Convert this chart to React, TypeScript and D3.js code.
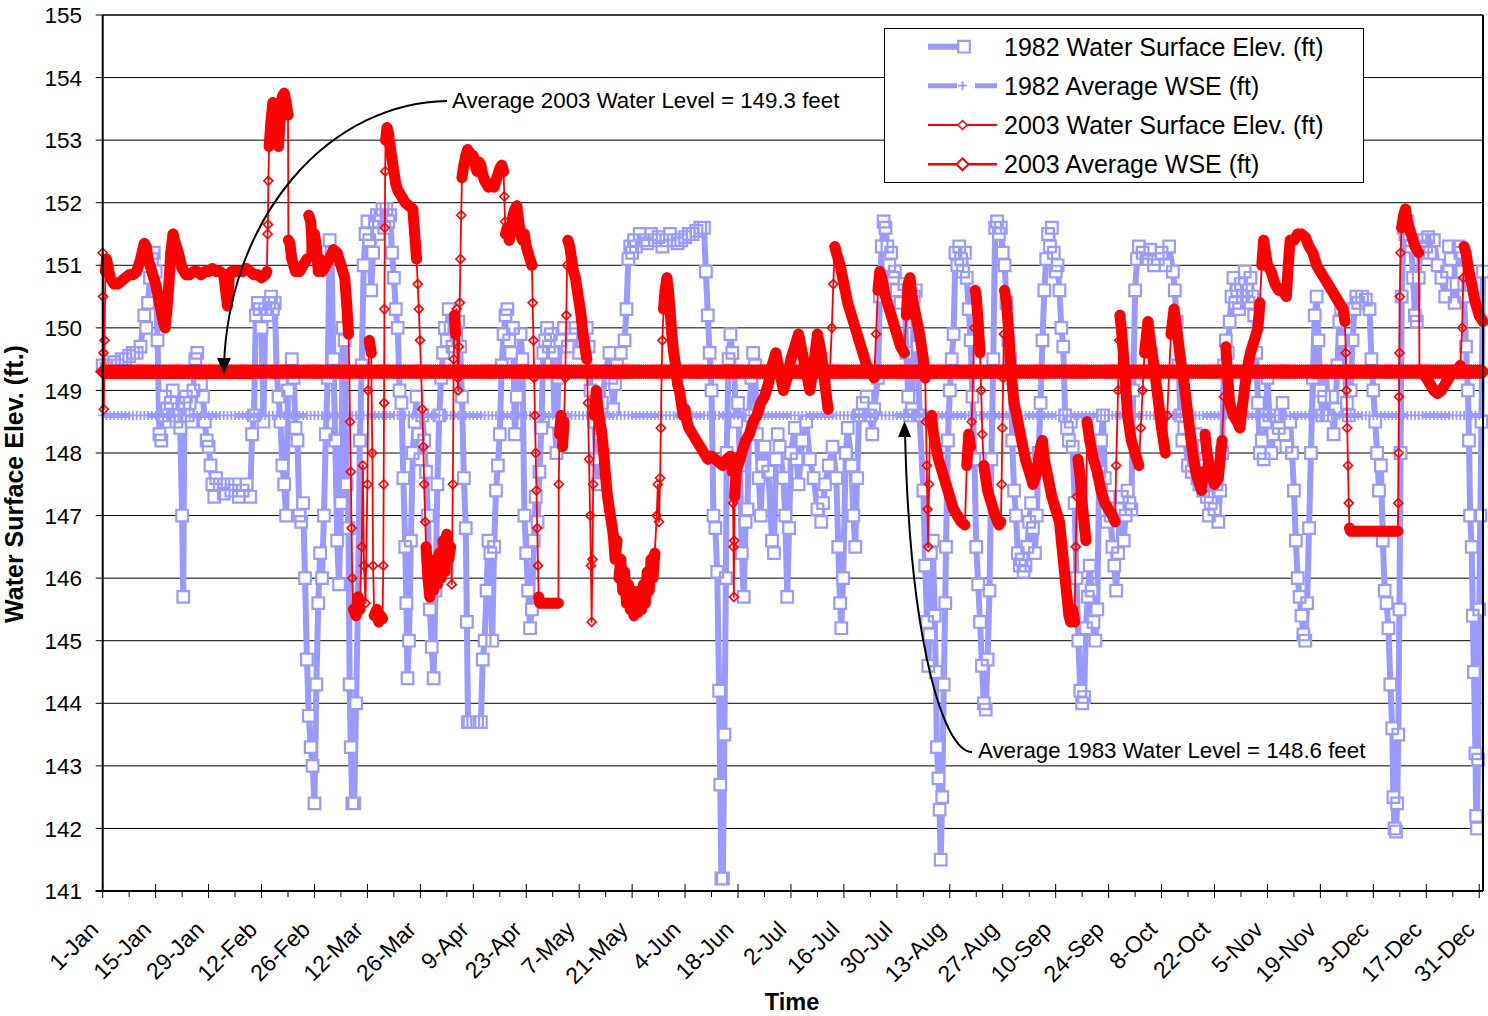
import React from 'react';
import * as d3 from 'd3';

const X_TICK_LABELS = ['1-Jan','15-Jan','29-Jan','12-Feb','26-Feb','12-Mar','26-Mar','9-Apr','23-Apr','7-May','21-May','4-Jun','18-Jun','2-Jul','16-Jul','30-Jul','13-Aug','27-Aug','10-Sep','24-Sep','8-Oct','22-Oct','5-Nov','19-Nov','3-Dec','17-Dec','31-Dec'];
const Y_TICKS = [141,142,143,144,145,146,147,148,149,150,151,152,153,154,155];
const AVG_1982 = 148.6;
const AVG_2003 = 149.3;
const LEGEND_LABELS = ['1982 Water Surface Elev. (ft)','1982 Average WSE (ft)','2003 Water Surface Elev. (ft)','2003 Average WSE (ft)'];

// [day of year, elevation ft]
const WSE_1982: [number, number][] = [
[0,149.4],[1,149.35],[2,149.4],[3,149.45],[4,149.4],[5,149.5],[6,149.5],[7,149.55],[8,149.6],[9,149.6],[10,149.7],[11,150.2],[11.5,150.0],[12,150.4],[12.5,150.8],[13,151.1],[13.5,151.2],[14,150.9],[14.5,149.8],[15,148.3],[15.5,148.2],[16,148.6],[16.5,148.9],[17,148.7],[17.5,148.5],[18,148.8],[18.5,149.0],[19,148.6],[19.5,148.5],[20,148.7],[20.5,148.4],[21,147.0],[21.3,145.7],[21.6,148.8],[22,148.9],[22.5,148.6],[23,148.8],[23.5,148.5],[24,149.0],[24.5,149.5],[25,149.6],[25.5,149.3],[26,149.1],[26.5,148.9],[27,148.5],[27.5,148.2],[28,148.1],[28.5,147.8],[29,147.5],[29.5,147.3],[30,147.6],[31,147.5],[32,147.35],[33,147.5],[34,147.4],[35,147.5],[36,147.3],[37,147.4],[38,147.5],[39,147.3],[39.5,148.3],[40,148.6],[40.5,150.2],[41,150.4],[41.5,150.3],[42,150.0],[42.5,148.5],[43,150.3],[43.5,150.2],[44,150.4],[44.5,150.5],[45,150.3],[45.5,150.4],[46,149.3],[46.5,148.9],[47,148.5],[47.5,147.8],[48,147.5],[48.5,147.0],[49,149.0],[49.5,149.3],[50,149.5],[50.5,149.2],[51,148.4],[51.5,148.2],[52,147.0],[52.5,146.9],[53,147.2],[53.5,146.0],[54,144.7],[54.5,143.8],[55,143.3],[55.5,143.0],[56,142.4],[56.5,144.3],[57,145.6],[57.5,146.4],[58,146.0],[58.5,147.0],[59,148.3],[59.5,149.2],[60,151.4],[60.5,151.2],[61,149.5],[61.5,148.2],[62,146.6],[62.5,145.9],[63,147.2],[63.5,150.0],[64,149.8],[64.5,147.5],[65,146.8],[65.3,144.3],[65.6,143.3],[66,142.4],[66.5,142.4],[67,144.0],[67.5,145.6],[68,148.2],[68.5,149.4],[69,151.0],[69.5,151.5],[70,151.7],[70.5,151.4],[71,150.6],[71.5,151.2],[72,151.7],[72.5,151.8],[73,151.5],[73.5,151.8],[74,151.9],[74.5,151.6],[75,151.9],[75.5,151.7],[76,151.8],[76.5,151.2],[77,150.8],[77.5,150.3],[78,150.0],
[78.5,149.0],[79,148.8],[79.5,147.6],[80,146.5],[80.3,145.6],[80.6,144.4],[81,145.0],[81.5,146.6],[82,148.0],[82.5,148.5],[83,148.9],[83.5,148.3],[84,147.9],[84.5,148.6],[85,148.2],[85.5,147.7],[86,147.0],[86.5,145.5],[87,144.9],[87.5,144.4],[88,145.8],[88.5,147.5],[89,148.6],[89.5,149.2],[90,149.6],[90.5,150.0],[91,149.8],[91.5,150.3],[92,150.0],[92.5,149.7],[93,150.0],[93.5,149.9],[94,150.1],[94.5,149.7],[95,148.9],[95.5,147.6],[96,146.8],[96.3,145.3],[96.6,143.7],[97,143.7],[98,143.7],[99,143.7],[100,143.7],[100.5,144.7],[101,145.0],[101.5,145.8],[102,146.6],[102.5,146.4],[103,145.0],[103.5,146.5],[104,147.4],[104.5,147.8],[105,148.3],[105.5,149.4],[106,149.9],[106.5,150.2],[107,150.3],[107.5,149.8],[108,149.6],[108.5,150.0],[109,148.3],[109.5,148.9],[110,149.3],[110.5,149.9],[111,149.5],[111.5,147.0],[112,146.4],[112.5,145.8],[113,145.2],[113.5,145.5],[114,146.6],[114.5,147.3],[115,146.9],[115.5,147.7],[116,148.4],[116.5,149.6],[117,149.8],[117.5,150.0],[118,149.7],[118.5,149.9],[119,149.6],[119.5,148.5],[120,148.0],[120.5,149.2],[121,149.8],[122,150.0],[123,149.7],[124,149.9],[125,150.0],[126,149.6],[127,149.8],[128,150.0],[128.5,149.7],[129,149.0],[130,148.5],[130.5,147.9],[131,147.5],[131.5,148.3],[132,148.8],[133,149.3],[134,149.6],[134.5,149.2],[135,148.7],[135.5,149.1],[136,149.4],[137,149.6],[138,149.8],[138.5,150.3],[139,151.1],[139.5,151.3],[140,151.2],[140.5,151.4],[141,151.3],[142,151.5],[143,151.4],[144,151.35],[145,151.5],[146,151.4],[147,151.45],[148,151.3],[149,151.4],[150,151.5],[151,151.4],[152,151.35],[153,151.4],[154,151.45],[155,151.5],[156,151.5],[157,151.55],[158,151.6],[159,151.6],[159.5,150.9],
[160,150.2],[160.5,149.6],[161,149.0],[161.5,147.0],[162,146.8],[162.5,146.1],[163,144.2],[163.3,142.7],[163.6,141.2],[164,141.2],[164.4,143.5],[164.8,146.0],[165,148.0],[165.5,149.5],[166,149.9],[166.5,149.6],[167,149.3],[167.5,148.5],[168,148.8],[168.5,147.8],[169,146.4],[169.5,145.7],[170,146.9],[170.5,147.1],[171,148.6],[171.5,149.2],[172,149.6],[172.5,149.4],[173,148.3],[173.5,147.6],[174,147.0],[174.5,147.8],[175,148.1],[176,147.7],[177,146.6],[177.5,146.4],[178,147.9],[178.5,148.3],[179,148.1],[180,147.6],[180.5,147.0],[181,145.7],[181.5,146.8],[182,148.0],[183,148.4],[183.5,147.9],[184,147.5],[185,148.2],[186,148.5],[187,147.9],[188,147.6],[189,147.1],[190,146.9],[190.5,147.2],[191,147.5],[192,147.8],[193,148.1],[194,147.6],[194.5,146.5],[195,145.6],[195.3,145.2],[195.8,146.0],[196.5,148.0],[197,148.4],[198,147.8],[198.5,147.0],[199,146.5],[199.5,147.6],[200,148.6],[201,148.8],[202,148.9],[203,148.6],[203.5,148.3],[204,148.7],[205,149.2],[205.5,150.5],[206,151.3],[206.5,151.7],[207,151.6],[207.5,151.3],[208,151.0],[208.5,151.2],[209,150.8],[209.5,150.9],[210,150.6],[211,150.4],[212,150.7],[212.5,149.6],[213,148.9],[213.5,148.6],[214,148.7],[214.5,150.5],[215,150.6],[215.5,149.7],[216,148.6],[217,147.4],[217.5,146.2],[218,145.3],[218.3,144.6],[218.6,145.1],[219,146.4],[219.5,146.6],[220,145.4],[220.3,144.5],[220.6,143.3],[221,142.8],[221.3,142.3],[221.6,141.5],[222,142.5],[222.4,144.3],[222.8,145.6],[223,146.5],[223.5,148.2],[224,149.0],[224.5,149.5],[225,149.9],
[225.5,151.2],[226,151.0],[226.5,151.3],[227,151.1],[227.5,150.9],[228,151.2],[228.5,150.8],[229,150.3],[229.5,149.8],[230,148.9],[230.5,147.9],[231,146.5],[231.5,145.9],[232,145.3],[232.5,144.6],[233,144.0],[233.5,143.9],[234,144.7],[234.5,145.8],[235,147.9],[235.5,149.5],[236,151.6],[236.5,151.7],[237,151.5],[237.5,151.6],[238,151.2],[238.5,151.0],[239,150.4],[239.5,149.8],[240,149.5],[240.5,148.2],[241,147.4],[241.5,147.0],[242,146.4],[242.5,146.2],[243,146.3],[243.5,146.1],[244,146.2],[244.5,146.5],[245,146.9],[245.5,147.2],[246,146.8],[246.5,146.4],[247,147.0],[247.5,148.0],[248,148.8],[248.5,149.8],[249,150.6],[249.5,151.1],[250,151.5],[250.5,151.3],[251,151.6],[251.5,151.2],[252,150.9],[252.5,151.0],[253,150.6],[253.5,150.0],[254,149.7],[254.5,148.6],[255,148.4],[255.5,148.2],[256,148.5],[256.5,148.1],[257,147.2],[257.5,146.0],[258,145.0],[258.5,144.2],[259,144.0],[259.5,144.1],[260,145.2],[260.5,145.7],[261,146.2],[261.5,145.8],[262,145.3],[262.5,145.0],[263,145.5],[263.5,147.7],[264,148.2],[264.5,148.6],[265,147.6],[265.5,146.9],[266,147.3],[266.5,147.0],[267,146.5],[267.5,146.2],[268,145.8],[268.5,146.4],[269,147.1],[269.5,147.3],[270,146.6],[270.5,147.0],[271,147.4],[271.5,147.2],[272,147.1],[272.5,149.0],[273,150.6],[273.5,151.1],[274,151.3],[275,151.2],[276,151.1],[277,151.25],[278,151.0],[279,151.1],[280,151.2],[281,151.0],[282,151.3],[283,150.9],[283.5,150.6],[284,150.1],[284.5,149.4],[285,148.6],[285.5,148.2],[286,148.4],[287,147.8],[288,147.7],[288.5,147.9],[289,148.3],[289.5,147.6],[290,147.5],[291,147.4],[291.5,147.8],[292,147.3],[292.5,147.0],[293,147.2],[294,147.1],[294.5,147.5],[295,146.9],[295.5,147.4],[296,148.0],[296.5,149.4],[297,149.8],[297.5,149.6],[298,150.1],[298.5,150.5],[299,150.8],[299.5,150.4],[300,150.6],[300.5,150.3],[301,150.7],[301.5,150.5],[302,150.9],[302.5,150.6],[303,150.4],[303.5,150.8],[304,150.5],[304.5,150.2],[305,149.6],[305.5,148.8],[306,148.0],[306.5,148.2],[307,147.9],[307.5,148.5],[308,149.2],
[308.5,148.6],[309,148.0],[309.5,148.3],[310,148.6],[311,148.4],[312,148.8],[312.5,148.3],[313,148.1],[314,148.5],[314.5,148.0],[315,147.4],[315.5,146.6],[316,146.0],[316.5,145.7],[317,145.4],[317.5,145.1],[318,145.0],[318.5,145.6],[319,146.8],[319.5,148.0],[320,149.2],[320.5,150.2],[321,150.5],[321.5,149.8],[322,149.0],[322.5,148.6],[323,148.9],[323.5,149.3],[324,148.6],[325,148.9],[325.5,148.3],[326,148.7],[326.5,149.4],[327,150.1],[327.5,150.3],[328,149.8],[328.5,149.3],[329,148.8],[329.5,148.6],[330,149.0],[330.5,149.8],[331,150.3],[331.5,150.5],[332,150.4],[333,150.5],[334,150.45],[335,150.3],[335.5,149.5],[336,149.0],[336.5,148.5],[337,148.0],[337.5,147.4],[338,147.8],[338.5,146.6],[339,145.8],[339.5,145.6],[340,145.2],[340.5,144.3],[341,143.6],[341.3,142.5],[341.6,142.0],[342,141.95],[342.3,142.4],[342.6,143.5],[342.9,145.5],[343.2,148.0],[343.5,150.5],[344,151.6],[344.5,151.5],[345,151.7],[345.5,151.4],[346,151.3],[346.5,150.8],[347,150.2],[347.5,150.1],[348,150.8],[348.5,151.4],[349,151.2],[349.5,151.4],[350,151.3],[350.5,151.45],[351,151.2],[352,151.4],[353,151.0],[354,150.8],[355,150.5],[355.5,150.9],[356,151.3],[356.5,151.1],[357,150.7],[357.5,150.4],[358,150.7],[358.5,151.3],[359,151.2],[359.5,150.9],[360,150.5],[360.5,149.7],[361,149.0],[361.3,148.2],[361.6,147.0],[362,146.5],[362.3,145.4],[362.6,144.5],[363,143.2],[363.2,142.2],[363.4,142.0],[363.7,143.1],[364,145.5],[364.3,147.0],[364.6,148.5],[365,150.9]
];

const WSE_2003: [number, number][] = [
[0,151.2],[0.1,150.5],[0.2,149.6],[0.3,148.7],[0.5,149.8],[0.7,150.9],[1,151.1],[2,150.8],[3,150.7],[4,150.7],[5,150.75],[6,150.8],[7,150.85],[8,150.85],[9,150.9],[10,151.1],[11,151.35],[11.5,151.3],[12,151.1],[13,150.9],[14,150.7],[15,150.4],[16,150.1],[16.5,150.0],[17,150.3],[17.5,150.7],[18,151.2],[18.6,151.5],[19,151.4],[20,151.2],[21,150.95],[22,150.85],[23,150.85],[24,150.9],[25,150.9],[26,150.85],[27,150.9],[28,150.9],[29,150.95],[30,150.9],[31,150.9],[32,150.85],[33,150.35],[33.5,150.85],[34,150.9],[35,150.9],[36,150.9],[37,150.9],[38,150.95],[39,150.9],[40,150.85],[41,150.85],[42,150.8],[43,150.85],[43.4,150.9],[43.6,151.5],[43.7,151.65],[43.8,152.35],[44,152.9],[44.5,153.3],[45,153.6],[45.5,153.4],[46,153.2],[46.5,152.9],[47,153.4],[47.5,153.7],[48,153.75],[48.5,153.6],[49,153.4],[49.1,151.4],[49.5,151.35],[50,151.1],[50.5,151.0],[51,150.9],[52,150.9],[53,151.0],[54,151.1],[54.5,151.8],[55,151.7],[55.5,151.2],[56,151.5],[56.5,151.3],[57,150.9],[57.5,151.1],[58,150.9],[59,151.0],[60,151.1],[61,151.25],[62,151.2],[63,151.0],[64,150.8],[64.5,150.4],[65,149.9],[65.2,149.3],[65.4,148.5],[65.6,147.7],[65.8,146.8],[66,146.0],[66.3,145.5],[67,145.4],[67.5,145.7],[68,145.5],[68.5,146.5],[68.8,147.8],[69.1,146.2],[69.5,145.6],[70,147.5],[70.2,149.0],[70.5,149.8],[71,149.6],[71.3,148.0],[71.5,146.2],[71.8,145.4],[72.5,145.5],[73,145.3],[73.5,145.4],[74,145.35],[74.2,146.2],[74.3,147.5],[74.4,148.8],[74.5,150.3],[74.6,151.6],[74.7,152.5],[74.8,153.0],[75.2,153.2],[75.6,153.1],[76,152.9],[76.5,152.7],[77,152.5],[77.5,152.3],[78,152.2],[79,152.1],[80,152.0],[81,151.95],[82,151.9],[82.5,151.5],[83,151.1],[83.3,150.7],[83.6,150.3],[83.9,149.8],[84.2,149.3],[84.5,148.7],[84.8,148.1],[85,147.5],[85.3,146.9],[85.5,146.5],[86,146.0],[86.5,145.7],[87,146.2],[87.5,145.8],[88,146.3],[88.5,145.9],[89,146.4],[89.5,146.0],[90,146.6],[90.5,146.1],[91,146.7],[91.5,146.3],[92,146.5],[92.3,145.9],[92.6,147.5],[92.8,149.5],[93,150.2],[93.3,149.9],[93.6,150.3],[93.9,149.2],[94,149.0],[94.2,149.7],[94.4,150.4],[94.6,151.1],[94.8,151.8],[95,152.4],[95.5,152.6],[96,152.75],[96.5,152.85],[97,152.8],[97.5,152.7],[98,152.75],[98.5,152.6],[99,152.5],[99.5,152.65],[100,152.6],[100.5,152.45],[101,152.35],[101.5,152.3],[102,152.25],[102.5,152.3],[103,152.3],[103.5,152.25],[104,152.35],[104.5,152.45],[105,152.55],[105.5,152.6],[106,152.5],[106.2,152.1],[106.4,151.7],[106.5,151.5],[107,151.6],[107.5,151.4],[108,151.6],[108.5,151.8],[109,151.9],[109.5,151.95],[110,151.7],[110.5,151.5],[111,151.4],[111.5,151.5],[112,151.3],[112.5,151.2],[113,151.1],[113.5,151.0],[113.7,150.4],[113.9,149.8],[114.1,149.2],[114.3,148.6],[114.5,148.0],[114.7,147.4],[114.9,146.8],[115.1,146.2],[115.3,145.7],[115.6,145.6],[116,145.6],[117,145.6],[118,145.6],[119,145.6],[120,145.6],[120.5,145.6],[120.6,147.5],[120.8,148.3],[121.2,148.6],[121.6,148.1],[122,148.5],[122.3,149.2],[122.6,150.2],[122.8,151.0],[123,151.4],[123.5,151.3],[124,151.1],[124.5,150.9],[125,150.8],[125.5,150.6],[126,150.4],[126.5,150.2],[127,149.9],[127.5,149.7],[128,149.5],[128.3,148.8],[128.6,147.9],[128.9,147.0],[129.1,146.2],[129.3,145.3],[129.5,146.3],[129.7,147.5],[130,148.6],[130.5,149.0],[131,148.7],[131.5,148.5],[132,148.3],[132.5,148.0],[133,147.6],[133.5,147.3],[134,147.1],[134.5,146.9],[135,146.7],[135.5,146.3],[136,146.6],[136.5,146.0],[137,146.3],[137.5,145.8],[138,146.1],[138.5,145.6],[139,145.9],[139.5,145.5],[140,145.8],[140.5,145.4],[141,145.7],[141.5,145.45],[142,145.8],[142.5,145.5],[143,145.9],[143.5,145.6],[144,146.1],[144.5,145.8],[145,146.3],[145.5,146.0],[146,146.4],[146.5,147.0],[146.8,147.5],[147.1,146.9],[147.4,147.6],[147.6,148.4],[147.8,149.3],[148,149.8],[148.3,150.3],[148.7,150.6],[149.2,150.8],[149.6,150.6],[150,150.3],[150.5,149.9],[151,149.6],[151.5,149.4],[152,149.1],[152.5,149.0],[153,148.8],[153.5,148.6],[154,148.7],[154.5,148.5],[155,148.4],[156,148.3],[157,148.2],[158,148.1],[159,148.0],[160,147.9],[161,147.95],[162,147.9],[163,147.85],[164,147.8],[165,147.9],[166,147.95],[166.5,147.7],[166.7,147.2],[166.8,146.5],[166.9,145.7],[167,146.6],[167.1,147.3],[167.5,147.7],[168,147.8],[169,148.0],[170,148.2],[171,148.3],[172,148.5],[173,148.6],[174,148.8],[175,148.9],[176,149.1],[177,149.4],[178,149.6],[179,149.3],[180,149.0],[181,149.2],[182,149.5],[183,149.7],[184,149.9],[185,149.6],[186,149.3],[187,149.0],[188,149.4],[189,149.9],[190,149.6],[191,149.1],[191.8,148.7],[192.3,149.3],[192.8,150.0],[193.2,150.7],[193.6,151.3],[194,151.2],[195,151.0],[196,150.7],[197,150.4],[198,150.2],[199,150.0],[200,149.8],[201,149.6],[202,149.4],[203,149.3],[204,149.2],[204.5,149.9],[205,150.6],[205.5,150.9],[206,150.8],[207,150.5],[208,150.3],[209,150.1],[210,149.9],[211,149.7],[212,149.6],[212.5,150.2],[213,150.7],[213.5,150.8],[214,150.5],[215,150.2],[216,149.9],[217,149.5],[217.5,149.2],[217.7,148.5],[217.9,147.8],[218.1,147.1],[218.3,146.5],[218.5,147.5],[218.8,148.5],[219.2,148.6],[219.5,148.4],[220,148.2],[221,147.9],[222,147.7],[223,147.5],[224,147.3],[225,147.1],[226,147.0],[227,146.9],[228,146.85],[228.5,147.8],[229,148.3],[229.5,148.1],[229.8,148.5],[230.2,149.3],[230.5,150.0],[230.7,150.6],[231,150.5],[231.5,150.1],[232,149.6],[232.3,149.0],[232.6,148.3],[233,147.8],[233.5,147.6],[234,147.4],[235,147.2],[236,147.0],[237,146.85],[237.5,146.9],[237.7,147.5],[237.9,148.4],[238.1,149.2],[238.3,149.9],[238.5,150.6],[239,150.4],[239.5,150.0],[240,149.5],[240.5,149.1],[241,148.8],[242,148.5],[243,148.2],[244,147.9],[245,147.7],[246,147.5],[247,147.7],[248,148.1],[248.5,148.2],[249,147.9],[250,147.6],[251,147.3],[252,147.1],[253,146.9],[253.5,146.6],[254,146.3],[254.5,146.0],[255,145.7],[255.5,145.4],[256,145.3],[256.5,145.5],[257,145.3],[257.3,146.5],[257.6,147.3],[257.9,147.9],[258.5,147.6],[259,147.2],[259.5,146.9],[260,146.6],[260.3,148.5],[261,148.2],[262,147.9],[263,147.7],[264,147.4],[265,147.2],[266,147.1],[267,147.0],[267.7,146.9],[268,147.8],[268.5,149.0],[268.8,149.8],[269,150.2],[269.5,149.9],[270,149.5],[270.5,149.1],[271,148.6],[272,148.2],[273,148.0],[274,147.8],[274.5,148.4],[275,149.0],[275.5,149.6],[276.4,150.1],[277,149.8],[278,149.4],[279,148.9],[280,148.4],[281,148.0],[281.5,148.6],[282,149.3],[282.5,149.9],[283.3,150.3],[284,150.0],[285,149.5],[286,149.1],[287,148.6],[288,148.1],[289,147.7],[290,147.5],[290.6,147.4],[291,147.7],[291.5,148.3],[292,148.0],[293,147.7],[294,147.5],[295,147.6],[296,148.2],[296.5,148.9],[297,149.7],[297.5,149.2],[298,148.8],[299,148.6],[300,148.5],[300.7,148.4],[301.5,148.8],[302.5,149.3],[303.5,149.6],[304.5,149.8],[305.5,150.0],[306,150.4],[306.5,151.0],[307,151.4],[307.5,151.2],[308,151.0],[309,150.9],[310,150.7],[311,150.6],[312,150.6],[313,150.5],[313.5,151.0],[314,151.4],[315,151.4],[316,151.5],[317,151.5],[318,151.45],[319,151.3],[320,151.2],[321,151.0],[322,150.9],[323,150.8],[324,150.7],[325,150.6],[326,150.5],[327,150.4],[328,150.3],[328.5,150.1],[328.7,149.6],[328.9,149.0],[329.1,148.4],[329.3,147.8],[329.5,147.2],[329.7,146.8],[330,146.75],[331,146.75],[332,146.75],[333,146.75],[334,146.75],[335,146.75],[336,146.75],[337,146.75],[338,146.75],[339,146.75],[340,146.75],[341,146.75],[342,146.75],[342.5,146.75],[342.6,147.2],[342.7,148.0],[342.8,148.9],[342.9,149.6],[343,150.5],[343.2,151.2],[343.5,151.6],[344,151.8],[344.5,151.9],[345,151.7],[346,151.5],[347,151.3],[348,151.2],[348.2,149.3],[349,149.3],[350,149.2],[351,149.1],[352,149.0],[353,148.95],[354,149.0],[355,149.1],[356,149.2],[357,149.3],[358,149.3],[359,149.4],[359.5,150.0],[359.8,150.8],[360,151.3],[360.5,151.2],[361,151.0],[362,150.7],[363,150.4],[364,150.2],[365,150.1]
];

const FONT = 'Arial, "Liberation Sans", Helvetica, sans-serif';
const BLUE = '#9999FF';
const RED = '#FF0000';

const X0 = 102.7, X1 = 1483, Y0 = 891, Y1 = 15;
const x = d3.scaleLinear().domain([0, 365]).range([X0, X1]);
const y = d3.scaleLinear().domain([141, 155]).range([Y0, Y1]);

const f = (n: number) => n.toFixed(2);
const diamond = (cx: number, cy: number, r: number) => `M${f(cx)},${f(cy - r)}L${f(cx + r)},${f(cy)}L${f(cx)},${f(cy + r)}L${f(cx - r)},${f(cy)}Z`;
const square = (cx: number, cy: number, r: number) => `M${f(cx - r)},${f(cy - r)}h${2 * r}v${2 * r}h${-2 * r}Z`;
const plus = (cx: number, cy: number, r: number) => `M${f(cx - r)},${f(cy)}h${2 * r}M${f(cx)},${f(cy - r)}v${2 * r}`;

// segments where the level changes slowly (dense hourly readings overlap into a band)
function slowSegments(data: [number, number][], maxSlope: number) {
  let d = '';
  for (let i = 1; i < data.length; i++) {
    const x1 = x(data[i - 1][0]), y1 = y(data[i - 1][1]);
    const x2 = x(data[i][0]), y2 = y(data[i][1]);
    const slope = Math.abs(y2 - y1) / Math.max(0.01, x2 - x1);
    if (slope <= maxSlope) d += `M${f(x1)},${f(y1)}L${f(x2)},${f(y2)}`;
  }
  return d;
}

export default function App() {
  const line = d3.line<[number, number]>().x(d => x(d[0])).y(d => y(d[1]));
  const bluePath = line(WSE_1982) || '';
  const redPath = line(WSE_2003) || '';
  const redBand = slowSegments(WSE_2003, 18);
  const blueMarks = WSE_1982.map(d => square(x(d[0]), y(d[1]), 5.8)).join('');
  const redMarks = WSE_2003.map(d => diamond(x(d[0]), y(d[1]), 4.5)).join('');
  const avgDays = d3.range(0, 365.01, 0.5);
  const avgDaysB = d3.range(0, 365.01, 1);
  const redAvgMarks = avgDays.map(d => diamond(x(d), y(AVG_2003), 6.3)).join('');
  const blueAvgMarks = avgDaysB.map(d => plus(x(d), y(AVG_1982), 4.5)).join('');
  const xTicks = d3.range(0, 365, 7);

  const legendRows = [46.7, 85.7, 125, 164.3];

  return (
    <svg width={1488} height={1016} style={{ position: 'absolute', left: 0, top: 0, background: '#fff' }} fontFamily={FONT}>
      <rect x={0} y={0} width={1488} height={1016} fill="#fff" />
      {/* gridlines */}
      {Y_TICKS.map(t => (
        <line key={'g' + t} x1={X0} x2={X1} y1={y(t)} y2={y(t)} stroke="#000" strokeWidth={1} />
      ))}
      {/* 1982 series */}
      <path d={bluePath} fill="none" stroke={BLUE} strokeWidth={6} strokeLinejoin="round" strokeLinecap="round" />
      <path d={blueMarks} fill="#fff" stroke={BLUE} strokeWidth={2.2} />
      {/* 1982 average */}
      <line x1={x(0)} x2={x(365)} y1={y(AVG_1982)} y2={y(AVG_1982)} stroke={BLUE} strokeWidth={5} strokeDasharray="28 16" />
      <path d={blueAvgMarks} fill="none" stroke={BLUE} strokeWidth={1.8} />
      {/* 2003 series */}
      <path d={redBand} fill="none" stroke={RED} strokeWidth={11} strokeLinecap="round" />
      <path d={redPath} fill="none" stroke={RED} strokeWidth={1.8} strokeLinejoin="round" />
      <path d={redMarks} fill="none" stroke={RED} strokeWidth={1.6} />
      {/* 2003 average */}
      <line x1={x(0)} x2={x(365)} y1={y(AVG_2003)} y2={y(AVG_2003)} stroke={RED} strokeWidth={4} />
      <path d={redAvgMarks} fill="none" stroke={RED} strokeWidth={2} />

      {/* frame */}
      <line x1={X0} x2={X0} y1={Y1} y2={Y0} stroke="#000" strokeWidth={2} />
      <line x1={X0 - 7} x2={X1} y1={Y0} y2={Y0} stroke="#000" strokeWidth={2} />
      <line x1={X1} x2={X1} y1={Y1} y2={Y0} stroke="#000" strokeWidth={2} />
      <line x1={X0} x2={X1} y1={Y1} y2={Y1} stroke="#000" strokeWidth={1} />

      {/* y ticks */}
      {Y_TICKS.map(t => (
        <g key={'yt' + t}>
          <line x1={X0 - 7} x2={X0} y1={y(t)} y2={y(t)} stroke="#000" strokeWidth={1} />
          <text x={82} y={y(t)} dy="0.36em" textAnchor="end" fontSize={22.5} fill="#000">{t}</text>
        </g>
      ))}
      {/* x ticks */}
      {xTicks.map((d, i) => (
        i % 2 === 0
          ? <line key={'xt' + d} x1={x(d)} x2={x(d)} y1={Y0 - 7} y2={Y0 + 7} stroke="#000" strokeWidth={1} />
          : <line key={'xt' + d} x1={x(d)} x2={x(d)} y1={Y0} y2={Y0 + 6} stroke="#000" strokeWidth={1} />
      ))}
      {X_TICK_LABELS.map((lab, i) => (
        <text key={'xl' + i} transform={`translate(${x(i * 14) - 3},${931}) rotate(-45)`} textAnchor="end" fontSize={23} fill="#000">{lab}</text>
      ))}

      {/* axis titles */}
      <text x={792} y={1010} textAnchor="middle" fontSize={23.5} fontWeight="bold" fill="#000">Time</text>
      <text transform={`translate(23,484) rotate(-90)`} textAnchor="middle" fontSize={25} fontWeight="bold" fill="#000">Water Surface Elev. (ft.)</text>

      {/* annotations */}
      <path d="M447,101 A226,275 0 0,0 224,366" fill="none" stroke="#000" strokeWidth={2} />
      <path d="M224,374 L217,358 L231,358 Z" fill="#000" />
      <text x={452} y={108} fontSize={22.3} fill="#000">Average 2003 Water Level = 149.3 feet</text>
      <path d="M972,752 C945,752 910,650 905,432" fill="none" stroke="#000" strokeWidth={2} />
      <path d="M904.5,421 L898,437 L911,437 Z" fill="#000" />
      <text x={978} y={758} fontSize={22.3} fill="#000">Average 1983 Water Level = 148.6 feet</text>

      {/* legend */}
      <rect x={884.5} y={28.5} width={479} height={154} fill="#fff" stroke="#000" strokeWidth={1} />
      <line x1={928} x2={968} y1={legendRows[0]} y2={legendRows[0]} stroke={BLUE} strokeWidth={6} />
      <path d={square(964, legendRows[0], 5.8)} fill="#fff" stroke={BLUE} strokeWidth={2.2} />
      <line x1={928} x2={997} y1={legendRows[1]} y2={legendRows[1]} stroke={BLUE} strokeWidth={5} strokeDasharray="29 18" />
      <path d={plus(962.5, legendRows[1], 4.5)} fill="none" stroke={BLUE} strokeWidth={1.8} />
      <line x1={928} x2={997} y1={legendRows[2]} y2={legendRows[2]} stroke={RED} strokeWidth={2} />
      <path d={diamond(962.5, legendRows[2], 4.5)} fill="#fff" stroke={RED} strokeWidth={1.5} />
      <line x1={928} x2={997} y1={legendRows[3]} y2={legendRows[3]} stroke={RED} strokeWidth={2.5} />
      <path d={diamond(962.5, legendRows[3], 6)} fill="#fff" stroke={RED} strokeWidth={2} />
      {LEGEND_LABELS.map((lab, i) => (
        <text key={'lg' + i} x={1004} y={legendRows[i]} dy="0.36em" fontSize={25} fill="#000">{lab}</text>
      ))}
    </svg>
  );
}
